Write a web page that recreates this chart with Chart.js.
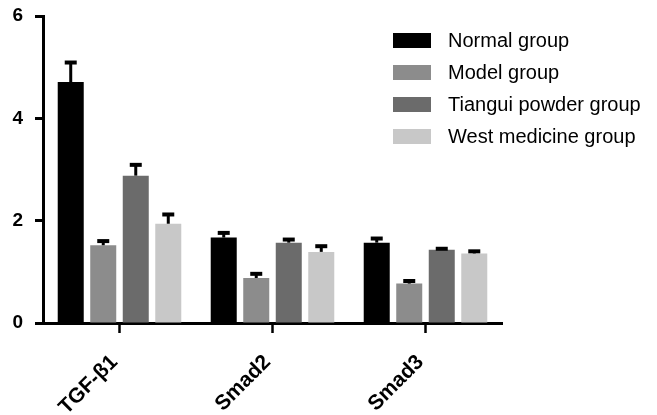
<!DOCTYPE html>
<html lang="en">
<head>
    <meta charset="UTF-8">
    <title>TGF-β1 / Smad expression</title>
    <script src="https://cdn.jsdelivr.net/npm/chart.js"></script>
    <style>
        body { margin: 0; background: #fff; }
        #wrap { position: relative; width: 657px; height: 415px; }
        #legend {
            position: absolute; left: 393px; top: 24px;
            font-family: "Liberation Sans", Arial, sans-serif; font-size: 20px; color: #000;
        }
        .row { display: flex; align-items: center; height: 32px; }
        .box { width: 38px; height: 15px; margin-right: 17px; }
    </style>
</head>
<body>
<div id="wrap">
    <canvas id="bars" width="657" height="415"></canvas>
    <div id="legend"></div>
</div>
<script>
    const categories = ['TGF-β1', 'Smad2', 'Smad3'];
    const groups = ['Normal group', 'Model group', 'Tiangui powder group', 'West medicine group'];
    const normal = [4.71, 1.67, 1.57];
    const normalErr = [0.42, 0.13, 0.12];
    const model = [1.52, 0.88, 0.77];
    const modelErr = [0.12, 0.12, 0.09];
    const tiangui = [2.88, 1.57, 1.43];
    const tianguiErr = [0.25, 0.10, 0.06];
    const west = [1.94, 1.39, 1.36];
    const westErr = [0.22, 0.15, 0.08];
    const yTicks = [0, 2, 4, 6];
    const colors = ['#000000', '#8c8c8c', '#6b6b6b', '#c8c8c8'];

    const values = [normal, model, tiangui, west];
    const errors = [normalErr, modelErr, tianguiErr, westErr];

    // upper error bars only, like the original figure
    const errorBars = {
        id: 'errorBars',
        afterDatasetsDraw(chart) {
            const ctx = chart.ctx;
            const y = chart.scales.y;
            ctx.save();
            ctx.strokeStyle = '#000';
            chart.data.datasets.forEach((ds, i) => {
                chart.getDatasetMeta(i).data.forEach((bar, j) => {
                    const top = y.getPixelForValue(ds.data[j] + errors[i][j]);
                    ctx.lineWidth = 3;
                    ctx.beginPath();
                    ctx.moveTo(bar.x, bar.y);
                    ctx.lineTo(bar.x, top + 1);
                    ctx.stroke();
                    ctx.lineWidth = 4;
                    ctx.beginPath();
                    ctx.moveTo(bar.x - 6, top + 2);
                    ctx.lineTo(bar.x + 6, top + 2);
                    ctx.stroke();
                });
            });
            ctx.restore();
        }
    };

    new Chart(document.getElementById('bars'), {
        type: 'bar',
        data: {
            labels: categories,
            datasets: groups.map((g, i) => ({
                label: g,
                data: values[i],
                backgroundColor: colors[i],
                borderWidth: 0,
                barPercentage: 0.8,
                categoryPercentage: 0.85
            }))
        },
        options: {
            responsive: false,
            animation: false,
            layout: { padding: { top: 16, right: 155, left: 0, bottom: 0 } },
            plugins: { legend: { display: false }, tooltip: { enabled: false } },
            scales: {
                x: {
                    afterFit: s => { s.height = 92; s.paddingLeft = 0; s.paddingRight = 0; },
                    border: { color: '#000', width: 3 },
                    grid: { drawOnChartArea: false, offset: false, tickLength: 10, tickWidth: 2.5, tickColor: '#000' },
                    ticks: {
                        color: '#000', maxRotation: 45, minRotation: 45, padding: 17, labelOffset: -5,
                        font: { family: '"Liberation Sans", Arial', size: 21, weight: 'bold' }
                    }
                },
                y: {
                    min: 0, max: 6,
                    afterFit: s => { s.width = 43; s.paddingTop = 0; s.paddingBottom = 0; },
                    afterBuildTicks: s => { s.ticks = yTicks.map(v => ({ value: v })); },
                    border: { color: '#000', width: 3 },
                    grid: { drawOnChartArea: false, tickLength: 8, tickWidth: 3, tickColor: '#000' },
                    ticks: {
                        color: '#000', padding: 12,
                        font: { family: '"Liberation Sans", Arial', size: 19, weight: 'bold' }
                    }
                }
            }
        },
        plugins: [errorBars]
    });

    const legend = document.getElementById('legend');
    groups.forEach((g, i) => {
        const row = document.createElement('div');
        row.className = 'row';
        row.innerHTML = '<span class="box" style="background:' + colors[i] + '"></span><span>' + g + '</span>';
        legend.appendChild(row);
    });
</script>
</body>
</html>
